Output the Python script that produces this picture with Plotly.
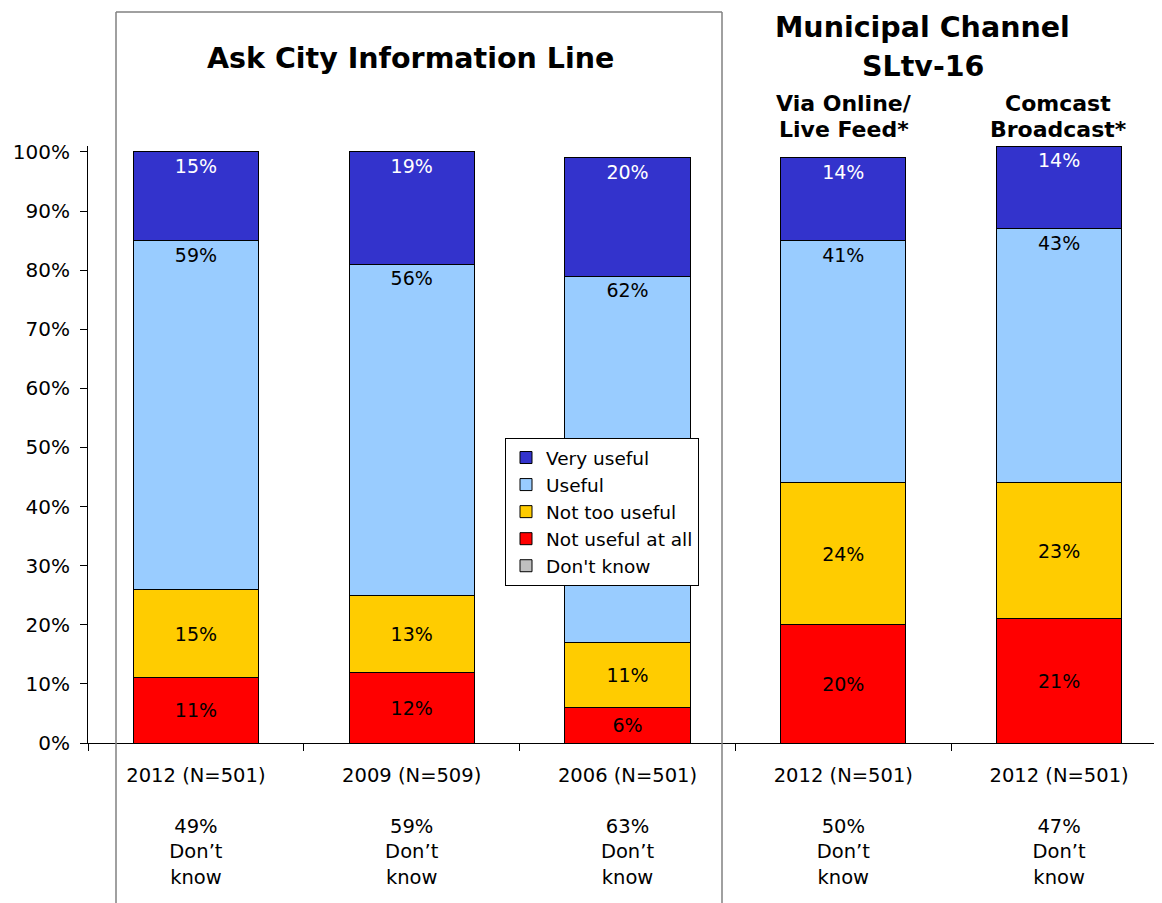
import plotly.graph_objects as go

categories = ["2012 (N=501)", "2009 (N=509)", "2006 (N=501)", "2012 (N=501)", "2012 (N=501)"]
dont_know_pct = [49, 59, 63, 50, 47]
very_useful = [15, 19, 20, 14, 14]
useful = [59, 56, 62, 41, 43]
not_too_useful = [15, 13, 11, 24, 23]
not_useful_at_all = [11, 12, 6, 20, 21]
dont_know_bar = [0, 0, 0, 0, 0]
y_ticks = [0, 10, 20, 30, 40, 50, 60, 70, 80, 90, 100]

x_cats = [f"{c}<br><br>{d}%<br>Don’t<br>know" for c, d in zip(categories, dont_know_pct)]

FONT = "DejaVu Sans"
fig = go.Figure()

def add(name, vals, color, tcolor, anchor, show_text=True):
    fig.add_trace(go.Bar(
        x=x_cats, y=vals, name=name, width=0.58,
        marker=dict(color=color, line=dict(color="black", width=1)),
        text=[f"{v}%" for v in vals] if show_text else None,
        textposition="inside" if show_text else "none",
        insidetextanchor=anchor,
        textfont=dict(family=FONT, size=19, color=tcolor),
        constraintext="none",
        hoverinfo="skip",
    ))

add("Don't know", dont_know_bar, "#C0C0C0", "black", "middle", show_text=False)
add("Not useful at all", not_useful_at_all, "#FF0000", "black", "middle")
add("Not too useful", not_too_useful, "#FFCC00", "black", "middle")
add("Useful", useful, "#99CCFF", "black", "end")
add("Very useful", very_useful, "#3333CC", "white", "end")

W, H = 1162, 903
OFF = 8  # page body margin
# target plot area in page pixels
PL, PR, PT, PB = 88, 1167, 146, 743
L = PL - OFF
R = W - (PR - OFF)
T = PT - OFF
B = H - (PB - OFF)
pw, ph = W - L - R, H - T - B

def px(x):
    return (x - OFF - L) / pw

def py(y):
    return (H - B - (y - OFF)) / ph

fig.update_layout(
    width=W, height=H, barmode="stack",
    margin=dict(l=L, r=R, t=T, b=B, autoexpand=False),
    paper_bgcolor="white", plot_bgcolor="white",
    font=dict(family=FONT, color="black"),
    showlegend=True,
    legend=dict(x=px(505), y=py(438), xanchor="left", yanchor="top",
                traceorder="reversed", bgcolor="white", bordercolor="black",
                borderwidth=1, font=dict(family=FONT, size=18.5, color="black"),
                itemclick=False),
    xaxis=dict(type="category", range=[-0.5, 4.5],
               tickson="boundaries", ticks="outside", ticklen=7, tickcolor="black",
               showline=True, linecolor="black", linewidth=1, showgrid=False,
               zeroline=False, tickangle=0, automargin=False, ticklabelstandoff=15,
               tickfont=dict(family=FONT, size=19.5, color="black")),
    yaxis=dict(range=[0, 101], tickmode="array", tickvals=y_ticks,
               ticktext=[f"{v}%" for v in y_ticks],
               ticks="outside", ticklen=7, tickcolor="black",
               showline=True, linecolor="black", linewidth=1, showgrid=False,
               zeroline=False, automargin=False, ticklabelstandoff=6,
               tickfont=dict(family=FONT, size=20, color="black")),
)

gray = dict(color="#808080", width=1.5)
fig.add_shape(type="line", xref="paper", yref="paper", x0=px(116), x1=px(116), y0=py(12), y1=py(920), line=gray)
fig.add_shape(type="line", xref="paper", yref="paper", x0=px(116), x1=px(722), y0=py(12), y1=py(12), line=gray)
fig.add_shape(type="line", xref="paper", yref="paper", x0=px(722), x1=px(722), y0=py(12), y1=py(920), line=gray)

def title(text, xc, yc, size):
    fig.add_annotation(text=f"<b>{text}</b>", xref="paper", yref="paper", x=px(xc), y=py(yc),
                       xanchor="center", yanchor="middle", showarrow=False,
                       font=dict(family=FONT, size=size, color="black"))

title("Ask City Information Line", 411, 58, 28.5)
title("Municipal Channel", 922, 27, 28.5)
title("SLtv-16", 923, 66, 28.5)
title("Via Online/", 844, 103, 22)
title("Live Feed*", 844, 130, 22)
title("Comcast", 1058, 103, 22)
title("Broadcast*", 1058, 130, 22)

fig.write_html("out.html")
